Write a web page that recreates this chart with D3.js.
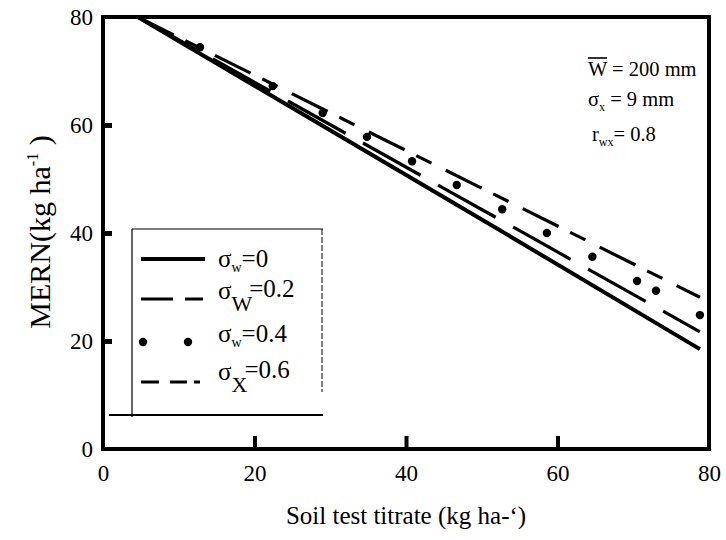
<!DOCTYPE html>
<html>
<head>
<meta charset="utf-8">
<script src="https://cdn.jsdelivr.net/npm/d3@7"></script>
<style>
  body { margin: 0; background: #fff; }
  svg text { font-family: "Liberation Serif", "Times New Roman", Times, serif; }
</style>
</head>
<body>
<svg id="chart" width="726" height="540"></svg>
<script>
// values
const xTicks = [0, 20, 40, 60, 80]
const yTicks = [0, 20, 40, 60, 80]
const markTicks = [20, 40, 60]

const sw0X = [4.6, 52.4, 78.8]
const sw0Y = [80, 40.5, 18.5]

const sw02X = [4.6, 54.65, 78.8]
const sw02Y = [80, 40.7, 21.7]

const sx06X = [4.6, 55.3, 78.8]
const sx06Y = [80, 44.6, 28.1]

const sw04X = [12.8, 22.4, 29.0, 34.85, 40.8, 46.7, 52.7, 58.6, 64.6, 70.5, 73.0, 78.8]
const sw04Y = [74.4, 67.2, 62.2, 57.8, 53.3, 48.9, 44.4, 40.0, 35.6, 31.1, 29.3, 24.8]

const serif = '"Liberation Serif", "Times New Roman", serif'

const svg = d3.select('#chart').attr('font-family', serif)
const x = d3.scaleLinear().domain([0, 80]).range([103, 709])
const y = d3.scaleLinear().domain([0, 80]).range([449, 17])

const zip = (xs, ys) => xs.map((v, i) => ({x: v, y: ys[i]}))
const line = d3.line().x(d => x(d.x)).y(d => y(d.y))

svg.append('clipPath').attr('id', 'plot')
    .append('rect')
    .attr('x', x(0)).attr('y', y(80))
    .attr('width', x(80) - x(0)).attr('height', y(0) - y(80))

const plot = svg.append('g').attr('clip-path', 'url(#plot)')

plot.append('path').datum(zip(sw0X, sw0Y))
    .attr('d', line).attr('fill', 'none').attr('stroke', '#000').attr('stroke-width', 4)

plot.append('path').datum(zip(sw02X, sw02Y))
    .attr('d', line).attr('fill', 'none').attr('stroke', '#000').attr('stroke-width', 3.2)
    .attr('stroke-dasharray', '66,20')

plot.append('path').datum(zip(sx06X, sx06Y))
    .attr('d', line).attr('fill', 'none').attr('stroke', '#000').attr('stroke-width', 3.2)
    .attr('stroke-dasharray', '40,13,17,16')

plot.selectAll('circle.dot').data(zip(sw04X, sw04Y)).enter()
    .append('circle').attr('class', 'dot')
    .attr('cx', d => x(d.x)).attr('cy', d => y(d.y)).attr('r', 4.2)

// tick labels
svg.append('g')
    .attr('transform', 'translate(0,' + y(0) + ')')
    .call(d3.axisBottom(x).tickValues(xTicks).tickSize(0).tickPadding(16))
svg.append('g')
    .attr('transform', 'translate(' + x(0) + ',0)')
    .call(d3.axisLeft(y).tickValues(yTicks).tickSize(0).tickPadding(10))
svg.selectAll('.domain').remove()
svg.selectAll('g').attr('font-family', serif)
svg.selectAll('.tick text').attr('font-size', 23).attr('fill', '#000')

// inward tick marks
svg.append('g')
    .attr('transform', 'translate(0,' + y(0) + ')')
    .call(d3.axisBottom(x).tickValues(markTicks).tickSizeInner(-13).tickSizeOuter(0).tickFormat(''))
    .call(g => g.select('.domain').remove())
    .selectAll('line').attr('stroke-width', 4)
svg.append('g')
    .attr('transform', 'translate(' + (x(0) - 2) + ',0)')
    .call(d3.axisLeft(y).tickValues(markTicks).tickSizeInner(-11).tickSizeOuter(0).tickFormat(''))
    .call(g => g.select('.domain').remove())
    .selectAll('line').attr('stroke-width', 5)

// frame
svg.append('rect')
    .attr('x', x(0)).attr('y', y(80))
    .attr('width', x(80) - x(0)).attr('height', y(0) - y(80))
    .attr('fill', 'none').attr('stroke', '#000').attr('stroke-width', 4)

// axis titles
svg.append('text')
    .attr('x', 406).attr('y', 524).attr('text-anchor', 'middle').attr('font-size', 25)
    .text('Soil test titrate (kg ha-\u2018)')

const yt = svg.append('text')
    .attr('transform', 'translate(50,232) rotate(-90)')
    .attr('text-anchor', 'middle').attr('font-size', 30)
yt.append('tspan').text('MERN(kg ha')
yt.append('tspan').attr('font-size', 16).attr('dy', -12).text('-1')
yt.append('tspan').attr('dy', 12).text(' )')

// parameter notes
const note1 = svg.append('text').attr('x', 588).attr('y', 76).attr('font-size', 20.5)
    .text('W = 200 mm')
const wWidth = note1.node().getSubStringLength(0, 1)
svg.append('line')
    .attr('x1', 588).attr('x2', 588 + wWidth)
    .attr('y1', 58).attr('y2', 58)
    .attr('stroke', '#000').attr('stroke-width', 1.6)

const note2 = svg.append('text').attr('x', 588).attr('y', 106).attr('font-size', 20.5)
note2.append('tspan').text('\u03c3')
note2.append('tspan').attr('font-size', 12).attr('dy', 5).text('x')
note2.append('tspan').attr('dy', -5).text(' = 9 mm')

const note3 = svg.append('text').attr('x', 592).attr('y', 141).attr('font-size', 20.5)
note3.append('tspan').text('r')
note3.append('tspan').attr('font-size', 12).attr('dy', 5).text('wx')
note3.append('tspan').attr('dy', -5).text('= 0.8')

// legend
const legend = svg.append('g')
legend.append('rect').attr('x', 133).attr('y', 229).attr('width', 190).attr('height', 187)
    .attr('fill', '#fff').attr('stroke', 'none')
legend.append('line').attr('x1', 132).attr('x2', 132).attr('y1', 229).attr('y2', 417)
    .attr('stroke', '#000').attr('stroke-width', 1.2)
legend.append('line').attr('x1', 132).attr('x2', 323).attr('y1', 229).attr('y2', 229)
    .attr('stroke', '#000').attr('stroke-width', 1.2)
legend.append('line').attr('x1', 322).attr('x2', 322).attr('y1', 229).attr('y2', 392)
    .attr('stroke', '#000').attr('stroke-width', 1).attr('stroke-dasharray', '6,2')
legend.append('line').attr('x1', 109).attr('x2', 323).attr('y1', 415).attr('y2', 415)
    .attr('stroke', '#000').attr('stroke-width', 1.8)

legend.append('line').attr('x1', 141).attr('x2', 205).attr('y1', 259).attr('y2', 259)
    .attr('stroke', '#000').attr('stroke-width', 4)
legend.append('line').attr('x1', 141).attr('x2', 203).attr('y1', 299).attr('y2', 299)
    .attr('stroke', '#000').attr('stroke-width', 3.2).attr('stroke-dasharray', '32,12')
legend.append('circle').attr('cx', 143).attr('cy', 342).attr('r', 4.2)
legend.append('circle').attr('cx', 188).attr('cy', 342).attr('r', 4.2)
legend.append('line').attr('x1', 141).attr('x2', 200).attr('y1', 382).attr('y2', 382)
    .attr('stroke', '#000').attr('stroke-width', 3.2).attr('stroke-dasharray', '18,11,17,7,7')

const lg1 = legend.append('text').attr('x', 218).attr('y', 267).attr('font-size', 25)
lg1.append('tspan').text('\u03c3')
lg1.append('tspan').attr('font-size', 14).attr('dy', 5).text('w')
lg1.append('tspan').attr('dy', -5).text('=0')

const lg2 = legend.append('text').attr('x', 218).attr('y', 299).attr('font-size', 25)
lg2.append('tspan').text('\u03c3')
lg2.append('tspan').attr('font-size', 22).attr('dy', 12).text('W')
lg2.append('tspan').attr('dx', -3).attr('dy', -14).text('=0.2')

const lg3 = legend.append('text').attr('x', 218).attr('y', 342).attr('font-size', 25)
lg3.append('tspan').text('\u03c3')
lg3.append('tspan').attr('font-size', 14).attr('dy', 5).text('w')
lg3.append('tspan').attr('dy', -5).text('=0.4')

const lg4 = legend.append('text').attr('x', 218).attr('y', 380).attr('font-size', 25)
lg4.append('tspan').text('\u03c3')
lg4.append('tspan').attr('font-size', 22).attr('dy', 12).text('X')
lg4.append('tspan').attr('dx', -3).attr('dy', -14).text('=0.6')
</script>
</body>
</html>
